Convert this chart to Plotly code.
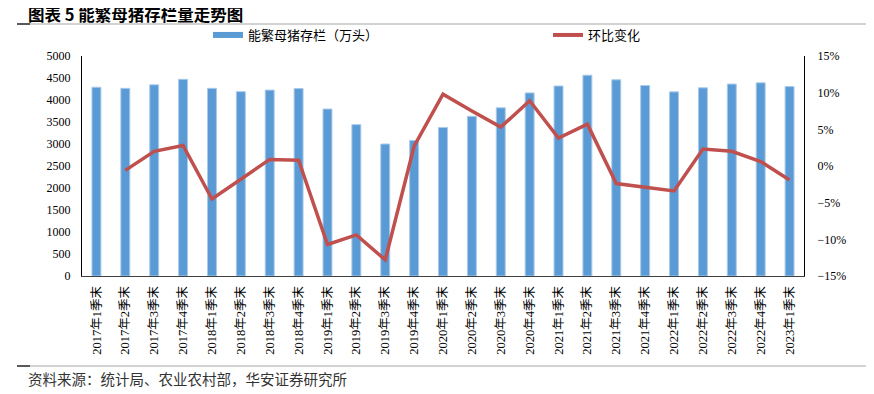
import plotly.graph_objects as go

categories = ["2017年1季末", "2017年2季末", "2017年3季末", "2017年4季末",
              "2018年1季末", "2018年2季末", "2018年3季末", "2018年4季末",
              "2019年1季末", "2019年2季末", "2019年3季末", "2019年4季末",
              "2020年1季末", "2020年2季末", "2020年3季末", "2020年4季末",
              "2021年1季末", "2021年2季末", "2021年3季末", "2021年4季末",
              "2022年1季末", "2022年2季末", "2022年3季末", "2022年4季末",
              "2023年1季末"]
sows = [4290, 4265, 4345, 4470, 4265, 4190, 4225, 4260,
        3795, 3440, 3000, 3080, 3376, 3629, 3822, 4161,
        4318, 4564, 4459, 4329, 4185, 4277, 4362, 4390, 4305]
qoq = [None, -0.6, 2.0, 2.8, -4.5, -1.8, 0.9, 0.8,
       -10.7, -9.4, -12.8, 2.7, 9.8, 7.5, 5.3, 8.9,
       3.8, 5.7, -2.4, -2.9, -3.4, 2.3, 2.0, 0.6, -1.9]

BLUE = "#5B9BD5"
RED = "#C0504D"
OFF = 8  # page body margin
W, H = 874 - OFF, 394 - OFF
# target screen coordinates of the plot area
SL, SR, ST, SB = 82, 804, 56, 276
L, R, T, B = SL - OFF, SR - OFF, ST - OFF, SB - OFF

def px(x):  # screen x -> paper
    return (x - SL) / (SR - SL)

def py(y):  # screen y -> paper
    return (SB - y) / (SB - ST)

serif = "Liberation Serif, Times New Roman, Noto Sans CJK SC, serif"
cjk = "Noto Sans CJK SC, sans-serif"

fig = go.Figure()
fig.add_trace(go.Bar(x=categories, y=sows, name="能繁母猪存栏（万头）",
                     marker=dict(color=BLUE, line=dict(color="#A9CBEA", width=1)),
                     width=0.31, showlegend=False, yaxis="y"))
fig.add_trace(go.Scatter(x=categories, y=qoq, name="环比变化", mode="lines",
                         line=dict(color=RED, width=3.5), yaxis="y2",
                         showlegend=False, connectgaps=False))
# legend proxies
fig.add_trace(go.Scatter(x=[None], y=[None], mode="lines", name="能繁母猪存栏（万头）",
                         line=dict(color=BLUE, width=6), legend="legend"))
fig.add_trace(go.Scatter(x=[None], y=[None], mode="lines", name="环比变化",
                         line=dict(color=RED, width=4), legend="legend2", yaxis="y2"))

fig.update_layout(
    width=W, height=H,
    margin=dict(l=L, r=W - R, t=T, b=H - B, autoexpand=False),
    paper_bgcolor="white", plot_bgcolor="white",
    xaxis=dict(type="category", tickangle=-90, tickfont=dict(family=serif, size=12.5, color="#000"),
               showline=True, linecolor="#404040", linewidth=1, ticks="", showgrid=False,
               range=[-0.5, len(categories) - 0.5], ticklabelstandoff=4),
    yaxis=dict(range=[0, 5000], dtick=500, showgrid=False, showline=True, linecolor="#000",
               linewidth=1, ticks="", tickfont=dict(family=serif, size=12, color="#000"),
               zeroline=False, ticklabelstandoff=8),
    yaxis2=dict(range=[-15, 15], dtick=5, overlaying="y", side="right", ticksuffix="%",
                showgrid=False, showline=True, linecolor="#000", linewidth=1, ticks="",
                tickfont=dict(family=serif, size=12, color="#000"), zeroline=False,
                ticklabelstandoff=10),
    legend=dict(x=px(208), y=py(35), xanchor="left", yanchor="middle", orientation="h",
                font=dict(family=cjk, size=13, color="#000"), itemwidth=30,
                bgcolor="rgba(0,0,0,0)"),
    legend2=dict(x=px(548), y=py(35), xanchor="left", yanchor="middle", orientation="h",
                 font=dict(family=cjk, size=13, color="#000"), itemwidth=30,
                 bgcolor="rgba(0,0,0,0)"),
    annotations=[
        dict(text="<b>图表 5 能繁母猪存栏量走势图</b>", x=px(26), y=py(14), xref="paper", yref="paper",
             xanchor="left", yanchor="middle", showarrow=False,
             font=dict(family=cjk, size=16.5, color="#000")),
        dict(text="资料来源：统计局、农业农村部，华安证券研究所", x=px(26), y=py(378),
             xref="paper", yref="paper", xanchor="left", yanchor="middle", showarrow=False,
             font=dict(family=cjk, size=14.5, color="#333")),
    ],
    shapes=[
        dict(type="line", xref="paper", yref="paper", x0=px(17), x1=px(870), y0=py(24), y1=py(24),
             line=dict(color="#A6A6A6", width=1)),
        dict(type="line", xref="paper", yref="paper", x0=px(17), x1=px(30), y0=py(24), y1=py(24),
             line=dict(color="#595959", width=2)),
        dict(type="line", xref="paper", yref="paper", x0=px(17), x1=px(870), y0=py(366), y1=py(366),
             line=dict(color="#A6A6A6", width=1)),
        dict(type="line", xref="paper", yref="paper", x0=px(17), x1=px(30), y0=py(366), y1=py(366),
             line=dict(color="#595959", width=2)),
    ],
)

fig.write_html("out.html")
